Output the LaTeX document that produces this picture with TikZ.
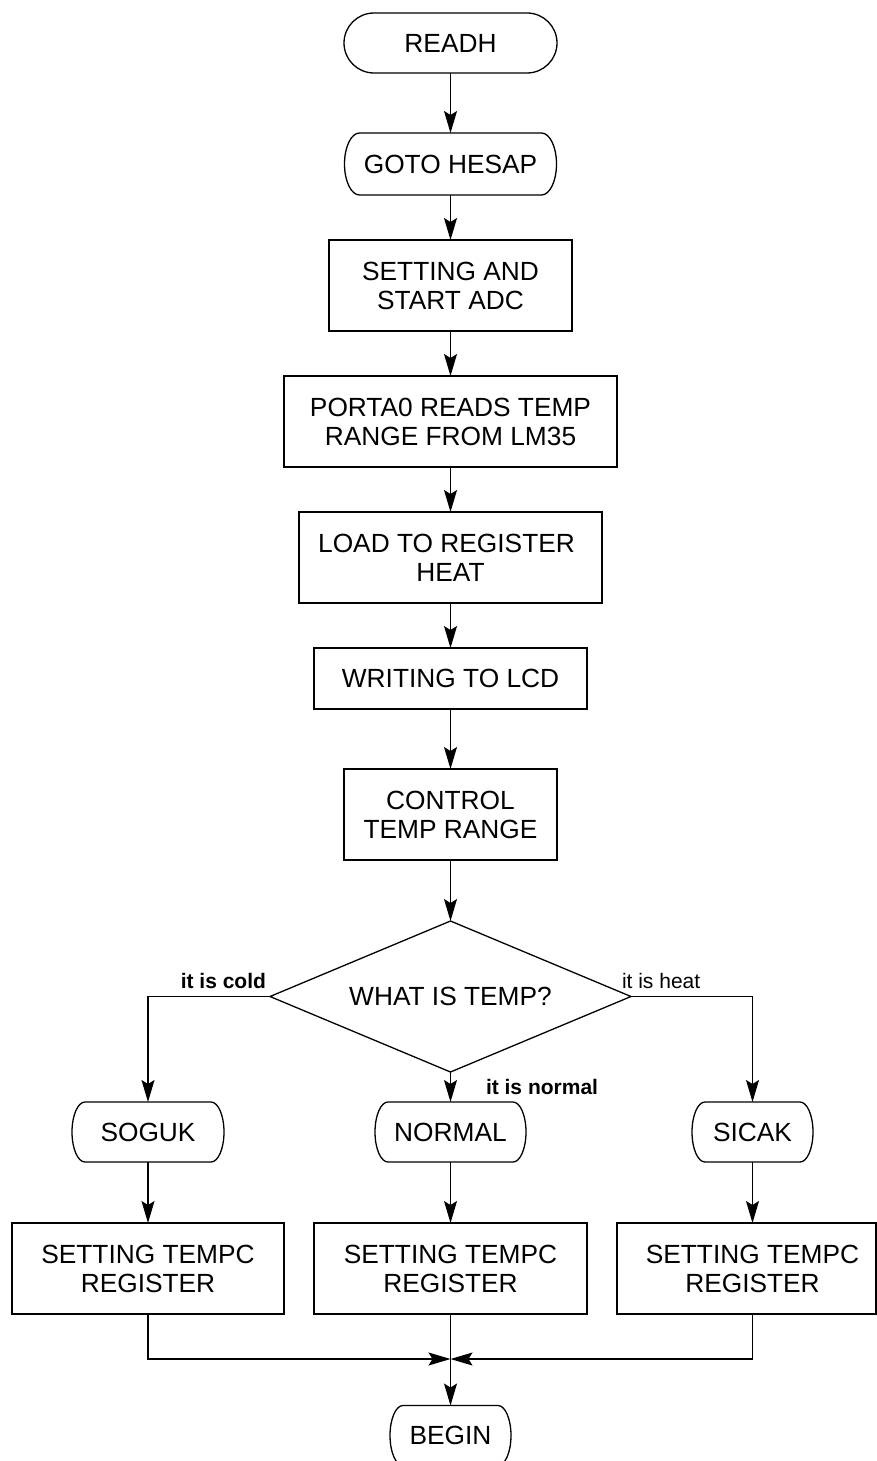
\documentclass[tikz,border=0pt]{standalone}
\usepackage{fontspec}
\setmainfont{Liberation Sans}
\usetikzlibrary{arrows.meta,shapes.geometric,calc}

% outline of a terminal: flat top and bottom, half-elliptic sides
\newcommand\termoutline[3]{%
  \draw ($(#1.north west)+(#2pt,0)$) -- ($(#1.north east)+(-#2pt,0)$)
    arc[start angle=90, end angle=-90, x radius=#2pt, y radius=#3pt]
    -- ($(#1.south west)+(#2pt,0)$)
    arc[start angle=270, end angle=90, x radius=#2pt, y radius=#3pt] -- cycle;}

\begin{document}
\begin{tikzpicture}[x=1pt, y=-1pt, line width=1.3pt,
  every node/.style={font=\fontsize{26.3}{29}\selectfont, align=center,
                     inner sep=0pt, outer sep=0pt},
  procbox/.style={draw, rectangle, minimum width=#1, minimum height=91pt},
  termbox/.style={rectangle, minimum width=#1, minimum height=60pt},
  decision/.style={draw, diamond, aspect=2.39, minimum width=361pt, minimum height=151pt},
  flow/.style={-{Stealth[length=22pt, width=13pt, inset=4pt]}},
  branchlbl/.style={font=\fontsize{21}{24}\selectfont}
]
\useasboundingbox (0,0) rectangle (877,1461);

% main column
\node[termbox=213pt] (readh) at (450.5,43) {READH};
\node[termbox=212pt, minimum height=62pt] (goto) at (450.5,164) {GOTO HESAP};
\node[procbox=243pt] (adc) at (450.5,285.5) {SETTING AND\\START ADC};
\node[procbox=333pt] (porta) at (450.5,421.5) {PORTA0 READS TEMP\\RANGE FROM LM35};
\node[procbox=303pt] (load) at (450.5,557.5) {LOAD TO REGISTER\hspace*{8pt}\\HEAT};
\node[procbox=273pt, minimum height=61pt] (lcd) at (450.5,678.5) {WRITING TO LCD};
\node[procbox=213pt] (ctrl) at (450.5,814.5) {CONTROL\\TEMP RANGE};
\node[decision] (dec) at (450.5,996.5) {WHAT IS TEMP?};

% three branches
\node[termbox=152pt] (soguk) at (148,1132) {SOGUK};
\node[termbox=151pt] (normal) at (450.5,1132) {NORMAL};
\node[termbox=121pt] (sicak) at (752.5,1132) {SICAK};
\node[procbox=272pt] (set1) at (148,1268.5) {SETTING TEMPC\\REGISTER};
\node[procbox=273pt] (set2) at (450.5,1268.5) {SETTING TEMPC\\REGISTER};
\node[procbox=259pt] (set3) at (746.5,1268.5) {\hspace*{12pt}SETTING TEMPC\\\hspace*{12pt}REGISTER};
\node[termbox=121pt] (begin) at (450.5,1435.5) {BEGIN};

% terminal outlines
\termoutline{readh}{30}{30}
\termoutline{goto}{15}{31}
\termoutline{soguk}{13}{30}
\termoutline{normal}{13}{30}
\termoutline{sicak}{13}{30}
\termoutline{begin}{13}{30}

% branch labels
\node[branchlbl, anchor=base east, font=\fontsize{21}{24}\selectfont\bfseries] (lcold) at (266,988) {it is cold};
\node[branchlbl, anchor=base west] (lheat) at (622,988) {it is heat};
\node[branchlbl, anchor=base west, font=\fontsize{21}{24}\selectfont\bfseries] (lnorm) at (486,1094) {it is normal};

% connectors
\draw[flow] (readh) -- (goto);
\draw[flow] (goto) -- (adc);
\draw[flow] (adc) -- (porta);
\draw[flow] (porta) -- (load);
\draw[flow] (load) -- (lcd);
\draw[flow] (lcd) -- (ctrl);
\draw[flow] (ctrl) -- (dec);

\draw[flow] (dec.west) -| (soguk.north);
\draw[flow] (dec.south) -- (normal.north);
\draw[flow] (dec.east) -| (sicak.north);

\draw[flow] (soguk) -- (set1);
\draw[flow] (normal) -- (set2);
\draw[flow] (sicak.south) -- (sicak.south |- set3.north);

\coordinate (join) at (set2.south |- 0,1359);
\coordinate (s3out) at (sicak.south |- set3.south);
\draw[flow] (set1.south) |- (join);
\draw[flow] (s3out) |- (join);
\draw[flow] (set2.south) -- (begin.north);
\end{tikzpicture}
\end{document}
